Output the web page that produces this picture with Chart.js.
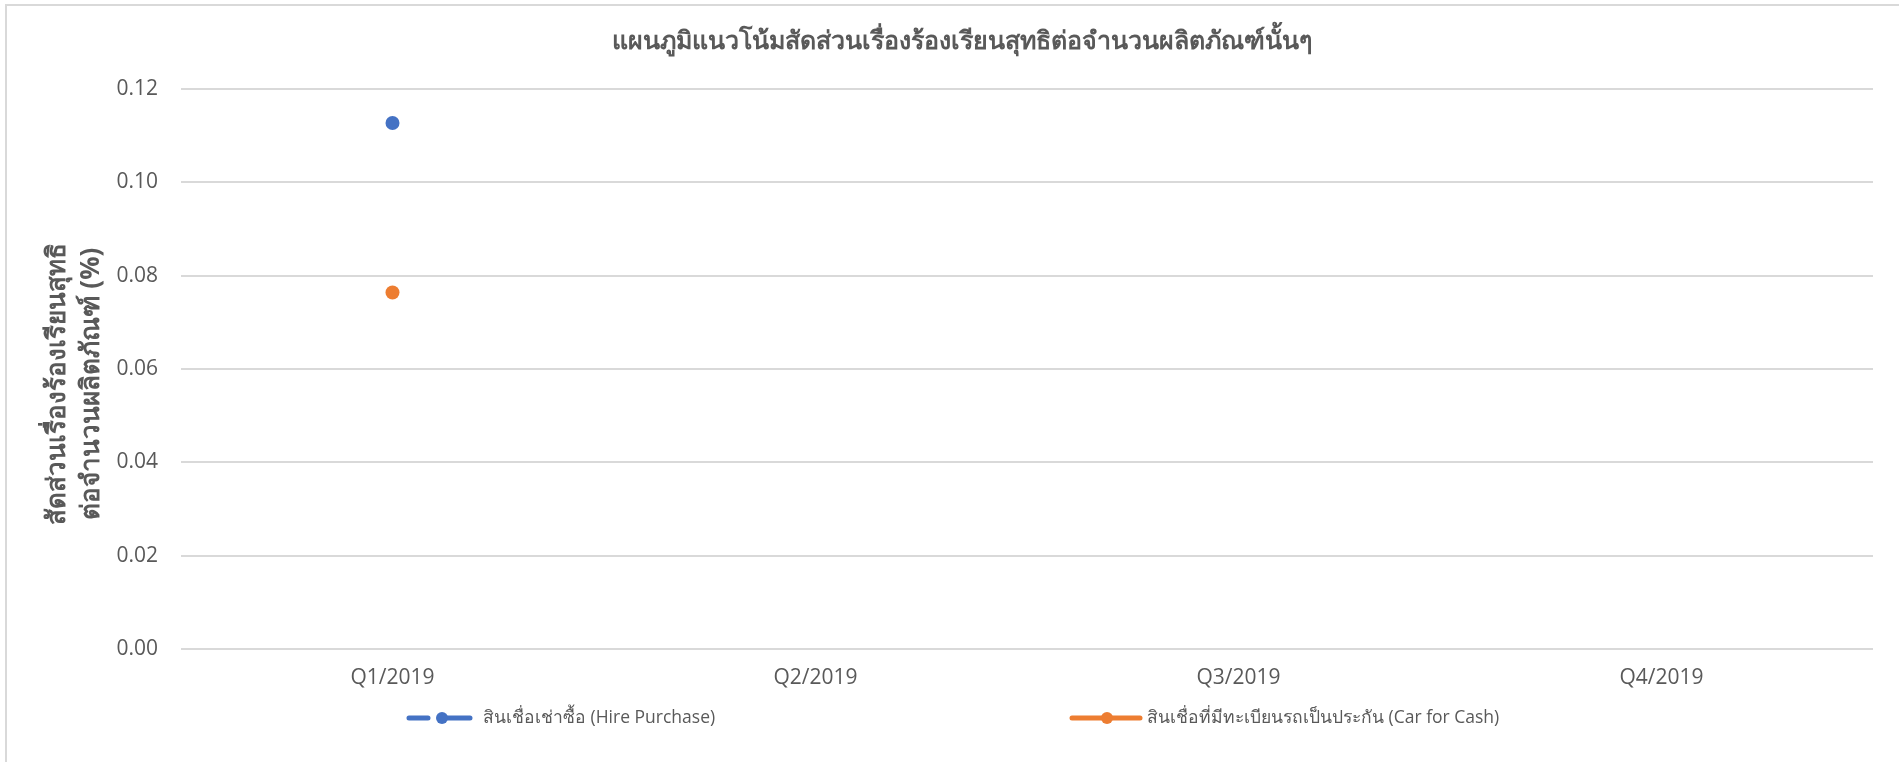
<!DOCTYPE html>
<html>
<head>
<meta charset="utf-8">
<script src="https://cdn.jsdelivr.net/npm/chart.js@4/dist/chart.umd.min.js"></script>
<style>
  html, body { margin: 0; padding: 0; background: #fff; }
  #wrap { position: relative; width: 1899px; height: 762px; }
</style>
</head>
<body>
<div id="wrap"><canvas id="trendChart" width="1899" height="762"></canvas></div>
<script>
// Chart data
const quarters = ['Q1/2019', 'Q2/2019', 'Q3/2019', 'Q4/2019'];
const hirePurchase = [0.1127, null, null, null];
const carForCash = [0.0764, null, null, null];
const yTicks = [0, 0.02, 0.04, 0.06, 0.08, 0.10, 0.12];

const chartTitle = 'แผนภูมิแนวโน้มสัดส่วนเรื่องร้องเรียนสุทธิต่อจำนวนผลิตภัณฑ์นั้นๆ';
const yTitle = ['สัดส่วนเรื่องร้องเรียนสุทธิ', 'ต่อจำนวนผลิตภัณฑ์ (%)'];

const FONT = "'Open Sans', 'Noto Sans', sans-serif";
const GREY = '#595959';

// Frame, titles and legend drawn by hand (Excel style layout)
const excelBits = {
    id: 'excelBits',
    beforeDraw(chart) {
        const ctx = chart.ctx;
        ctx.save();
        ctx.fillStyle = '#fff';
        ctx.fillRect(0, 0, chart.width, chart.height);
        ctx.strokeStyle = '#d9d9d9';
        ctx.lineWidth = 2;
        ctx.beginPath();
        ctx.moveTo(6, chart.height);
        ctx.lineTo(6, 5);
        ctx.lineTo(chart.width, 5);
        ctx.stroke();
        ctx.restore();
    },
    afterDraw(chart) {
        const ctx = chart.ctx;
        ctx.save();

        // chart title
        ctx.fillStyle = GREY;
        ctx.font = 'bold 25px ' + FONT;
        ctx.textAlign = 'center';
        ctx.textBaseline = 'middle';
        ctx.fillText(chartTitle, 962, 42);

        // y axis title, two lines, rotated
        ctx.translate(58, 384);
        ctx.rotate(-Math.PI / 2);
        ctx.font = 'bold 26px ' + FONT;
        yTitle.forEach((line, i) => ctx.fillText(line, 0, i * 34));
        ctx.setTransform(1, 0, 0, 1, 0, 0);

        const items = [
            { x: 407, ds: chart.data.datasets[0], dash: true },
            { x: 1070, ds: chart.data.datasets[1], dash: false }
        ];
        const y = 718;
        ctx.textAlign = 'left';
        items.forEach(it => {
            const c = it.ds.borderColor;
            ctx.strokeStyle = c;
            ctx.fillStyle = c;
            ctx.lineWidth = 5;
            ctx.lineCap = 'round';
            ctx.beginPath();
            if (it.dash) {
                ctx.moveTo(it.x + 2, y); ctx.lineTo(it.x + 21, y);
                ctx.moveTo(it.x + 40, y); ctx.lineTo(it.x + 63, y);
            } else {
                ctx.moveTo(it.x + 2, y); ctx.lineTo(it.x + 70, y);
            }
            ctx.stroke();
            ctx.beginPath();
            ctx.arc(it.x + (it.dash ? 35 : 37), y, 6, 0, Math.PI * 2);
            ctx.fill();
            ctx.fillStyle = GREY;
            ctx.font = '17.5px ' + FONT;
            ctx.textBaseline = 'middle';
            ctx.fillText(it.ds.label, it.x + (it.dash ? 76 : 77), y);
        });
        ctx.restore();
    }
};

const ctx = document.getElementById('trendChart').getContext('2d');
new Chart(ctx, {
    type: 'line',
    data: {
        labels: quarters,
        datasets: [
            {
                label: 'สินเชื่อเช่าซื้อ (Hire Purchase)',
                data: hirePurchase,
                borderColor: '#4472c4',
                backgroundColor: '#4472c4',
                borderWidth: 3,
                borderDash: [8, 6],
                pointRadius: 7,
                pointBorderWidth: 0,
                spanGaps: false
            },
            {
                label: 'สินเชื่อที่มีทะเบียนรถเป็นประกัน (Car for Cash)',
                data: carForCash,
                borderColor: '#ed7d31',
                backgroundColor: '#ed7d31',
                borderWidth: 3,
                pointRadius: 7,
                pointBorderWidth: 0,
                spanGaps: false
            }
        ]
    },
    options: {
        responsive: false,
        animation: false,
        devicePixelRatio: 1,
        layout: { padding: { left: 0, right: 26, top: 89, bottom: 0 } },
        plugins: {
            legend: { display: false },
            tooltip: { enabled: false },
            title: { display: false }
        },
        scales: {
            x: {
                offset: true,
                grid: { display: false, drawTicks: false },
                border: { display: false },
                ticks: {
                    color: GREY,
                    padding: 16,
                    font: { family: FONT, size: 21 }
                },
                afterFit(scale) { scale.height = 113; }
            },
            y: {
                min: 0,
                max: 0.12,
                afterBuildTicks(scale) {
                    scale.ticks = yTicks.map(v => ({ value: v }));
                },
                grid: { color: '#d9d9d9', lineWidth: 2, drawTicks: false },
                border: { display: false },
                ticks: {
                    color: GREY,
                    padding: 23,
                    font: { family: FONT, size: 21 },
                    callback: v => v.toFixed(2)
                },
                afterFit(scale) { scale.width = 181; }
            }
        }
    },
    plugins: [excelBits]
});
</script>
</body>
</html>
